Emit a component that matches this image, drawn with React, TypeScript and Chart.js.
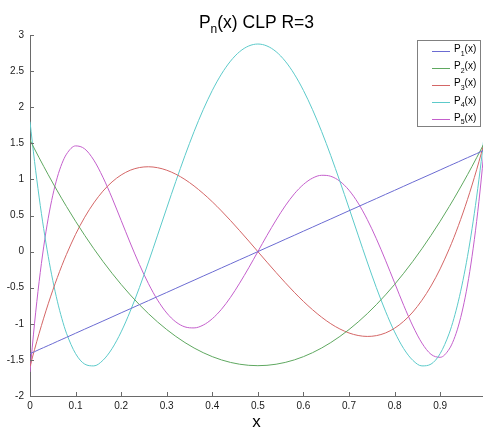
import React, { useEffect, useRef } from "react";
import { Chart, registerables } from "chart.js";

Chart.register(...registerables);

// ---- data ----
const xs = [
  0, 0.01, 0.02, 0.03, 0.04, 0.05, 0.06, 0.07, 0.08, 0.1, 0.12, 0.14, 0.16, 0.18, 0.2,
  0.22, 0.24, 0.26, 0.28, 0.3, 0.32, 0.34, 0.36, 0.38, 0.4, 0.42, 0.44, 0.46, 0.48, 0.5,
  0.52, 0.54, 0.56, 0.58, 0.6, 0.62, 0.64, 0.66, 0.68, 0.7, 0.72, 0.74, 0.76, 0.78, 0.8,
  0.82, 0.84, 0.86, 0.88, 0.9, 0.92, 0.93, 0.94, 0.95, 0.96, 0.97, 0.98, 0.99, 1.0,
];

const p1 = [
  -1.414, -1.386, -1.357, -1.329, -1.301, -1.273, -1.244, -1.216, -1.188, -1.131, -1.074, -1.018, -0.962, -0.905, -0.848,
  -0.792, -0.735, -0.679, -0.622, -0.566, -0.509, -0.452, -0.396, -0.339, -0.283, -0.226, -0.17, -0.113, -0.057, 0,
  0.057, 0.113, 0.17, 0.226, 0.283, 0.339, 0.396, 0.452, 0.509, 0.566, 0.622, 0.679, 0.735, 0.792, 0.848,
  0.905, 0.962, 1.018, 1.074, 1.131, 1.188, 1.216, 1.244, 1.273, 1.301, 1.329, 1.357, 1.386, 1.414,
];

const p2 = [
  1.545, 1.421, 1.3, 1.181, 1.065, 0.951, 0.84, 0.731, 0.625, 0.42, 0.225, 0.04, -0.135, -0.3, -0.455,
  -0.6, -0.735, -0.86, -0.975, -1.08, -1.175, -1.26, -1.335, -1.4, -1.455, -1.5, -1.535, -1.56, -1.575, -1.58,
  -1.575, -1.56, -1.535, -1.5, -1.455, -1.4, -1.335, -1.26, -1.175, -1.08, -0.975, -0.86, -0.735, -0.6, -0.455,
  -0.3, -0.135, 0.04, 0.225, 0.42, 0.625, 0.731, 0.84, 0.951, 1.065, 1.181, 1.3, 1.421, 1.545,
];

const p3 = [
  -1.592, -1.356, -1.133, -0.922, -0.723, -0.535, -0.359, -0.193, -0.039, 0.239, 0.476, 0.674, 0.837, 0.965, 1.061,
  1.127, 1.164, 1.175, 1.162, 1.127, 1.072, 0.999, 0.909, 0.805, 0.69, 0.564, 0.43, 0.29, 0.146, 0,
  -0.146, -0.29, -0.43, -0.564, -0.69, -0.805, -0.909, -0.999, -1.072, -1.127, -1.162, -1.175, -1.164, -1.127, -1.061,
  -0.965, -0.837, -0.674, -0.476, -0.239, 0.039, 0.193, 0.359, 0.535, 0.723, 0.922, 1.133, 1.356, 1.592,
];

const p4 = [
  1.8, 1.248, 0.755, 0.318, -0.066, -0.4, -0.687, -0.929, -1.13, -1.413, -1.558, -1.583, -1.506, -1.344, -1.112,
  -0.825, -0.499, -0.144, 0.228, 0.603, 0.973, 1.329, 1.662, 1.965, 2.232, 2.458, 2.638, 2.769, 2.848, 2.875,
  2.848, 2.769, 2.638, 2.458, 2.232, 1.965, 1.662, 1.329, 0.973, 0.603, 0.228, -0.144, -0.499, -0.825, -1.112,
  -1.344, -1.506, -1.583, -1.558, -1.413, -1.13, -0.929, -0.687, -0.4, -0.066, 0.318, 0.755, 1.248, 1.8,
];

const p5 = [
  -1.668, -0.992, -0.417, 0.065, 0.462, 0.781, 1.031, 1.218, 1.349, 1.464, 1.423, 1.267, 1.03, 0.744, 0.432,
  0.119, -0.178, -0.445, -0.672, -0.85, -0.974, -1.043, -1.057, -1.018, -0.93, -0.8, -0.633, -0.437, -0.224, 0,
  0.224, 0.437, 0.633, 0.8, 0.93, 1.018, 1.057, 1.043, 0.974, 0.85, 0.672, 0.445, 0.178, -0.119, -0.432,
  -0.744, -1.03, -1.267, -1.423, -1.464, -1.349, -1.218, -1.031, -0.781, -0.462, -0.065, 0.417, 0.992, 1.668,
];

const seriesValues = [p1, p2, p3, p4, p5];
const legendBase = "P";
const legendSubs = ["1", "2", "3", "4", "5"];
const legendSuffix = "(x)";
const seriesColors = ["#6b6bd2", "#5fa860", "#d46666", "#5ccaca", "#c45fcc"];

const titleBase = "P";
const titleSub = "n";
const titleRest = "(x) CLP R=3";
const xAxisLabel = "x";

const xTickStep = 0.1;
const yTickStep = 0.5;
const xMin = 0;
const xMax = 0.994;
const yMin = -2;
const yMax = 3;

const FAMILY = '"Liberation Sans", Arial, Helvetica, sans-serif';
const font = (size: number) => `${size}px ${FAMILY}`;
const AXIS_COLOR = "#6a6a6a";

const fmt = (v: number) => String(Math.round(v * 10) / 10);

const decorPlugin = {
  id: "matlabDecor",
  afterDraw(chart: any) {
    const ctx = chart.ctx as CanvasRenderingContext2D;
    const area = chart.chartArea;
    const xs_ = chart.scales.x;
    const ys_ = chart.scales.y;
    ctx.save();

    // inward ticks
    ctx.strokeStyle = AXIS_COLOR;
    ctx.lineWidth = 1;
    ctx.beginPath();
    for (const t of xs_.ticks) {
      const px = Math.round(xs_.getPixelForValue(t.value)) + 0.5;
      ctx.moveTo(px, area.bottom);
      ctx.lineTo(px, area.bottom - 4);
    }
    for (const t of ys_.ticks) {
      const py = Math.round(ys_.getPixelForValue(t.value)) + 0.5;
      ctx.moveTo(area.left, py);
      ctx.lineTo(area.left + 4, py);
    }
    ctx.stroke();

    // title with subscript
    const cx = (area.left + area.right) / 2;
    ctx.fillStyle = "#000";
    ctx.textBaseline = "alphabetic";
    ctx.textAlign = "left";
    ctx.font = font(17.5);
    const wBase = ctx.measureText(titleBase).width;
    const wRest = ctx.measureText(titleRest).width;
    ctx.font = font(12);
    const wSub = ctx.measureText(titleSub).width;
    let tx = cx - (wBase + wSub + wRest) / 2;
    const tBase = 27.5;
    ctx.font = font(17.5);
    ctx.fillText(titleBase, tx, tBase);
    tx += wBase;
    ctx.font = font(12);
    ctx.fillText(titleSub, tx, tBase + 5.5);
    tx += wSub;
    ctx.font = font(17.5);
    ctx.fillText(titleRest, tx, tBase);

    // x axis label
    ctx.font = font(17);
    ctx.textAlign = "center";
    ctx.fillText(xAxisLabel, cx, 426.5);

    // legend
    const bx = 417.5, by = 40.5, bw = 63, bh = 86;
    ctx.fillStyle = "#fff";
    ctx.fillRect(bx, by, bw, bh);
    ctx.strokeStyle = "#808080";
    ctx.strokeRect(bx, by, bw, bh);
    ctx.textAlign = "left";
    chart.data.datasets.forEach((ds: any, i: number) => {
      const ly = 50.5 + i * 17.2;
      ctx.strokeStyle = ds.borderColor;
      ctx.lineWidth = 1;
      ctx.beginPath();
      ctx.moveTo(432, Math.round(ly) + 0.5);
      ctx.lineTo(450, Math.round(ly) + 0.5);
      ctx.stroke();
      ctx.fillStyle = "#000";
      let lx = 454;
      ctx.font = font(10);
      ctx.fillText(legendBase, lx, ly + 1.5);
      lx += ctx.measureText(legendBase).width;
      ctx.font = font(7);
      ctx.fillText(legendSubs[i], lx, ly + 5);
      lx += ctx.measureText(legendSubs[i]).width;
      ctx.font = font(10);
      ctx.fillText(legendSuffix, lx, ly + 1.5);
    });

    ctx.restore();
  },
};

export default function App() {
  const ref = useRef<HTMLCanvasElement | null>(null);

  useEffect(() => {
    document.body.style.margin = "0";
    const canvas = ref.current;
    if (!canvas) return;
    const chart = new Chart(canvas, {
      type: "line",
      data: {
        datasets: seriesValues.map((vals, i) => ({
          label: legendBase + legendSubs[i] + legendSuffix,
          data: xs.map((x, j) => ({ x, y: vals[j] })),
          borderColor: seriesColors[i],
          backgroundColor: seriesColors[i],
          borderWidth: 1,
          pointRadius: 0,
          cubicInterpolationMode: "monotone" as const,
          fill: false,
        })),
      },
      options: {
        responsive: false,
        animation: false,
        devicePixelRatio: 1,
        layout: { padding: { top: 35, right: 0, left: 0, bottom: 0 } },
        plugins: {
          legend: { display: false },
          title: { display: false },
          tooltip: { enabled: false },
        },
        scales: {
          x: {
            type: "linear",
            min: xMin,
            max: xMax,
            afterFit: (s: any) => {
              s.height = 33;
            },
            ticks: {
              stepSize: xTickStep,
              includeBounds: false,
              autoSkip: false,
              maxRotation: 0,
              padding: 4,
              color: "#1a1a1a",
              font: { family: FAMILY, size: 10 },
              callback: (v: any) => fmt(Number(v)),
            },
            grid: { drawOnChartArea: false, drawTicks: false },
            border: { color: AXIS_COLOR, width: 1 },
          },
          y: {
            type: "linear",
            min: yMin,
            max: yMax,
            afterFit: (s: any) => {
              s.width = 30;
            },
            ticks: {
              stepSize: yTickStep,
              includeBounds: false,
              autoSkip: false,
              padding: 6,
              color: "#1a1a1a",
              font: { family: FAMILY, size: 10 },
              callback: (v: any) => fmt(Number(v)),
            },
            grid: { drawOnChartArea: false, drawTicks: false },
            border: { color: AXIS_COLOR, width: 1 },
          },
        },
      },
      plugins: [decorPlugin],
    } as any);
    return () => chart.destroy();
  }, []);

  return (
    <div style={{ position: "fixed", left: 0, top: 0, width: 483, height: 429, background: "#fff" }}>
      <canvas ref={ref} width={483} height={429} style={{ display: "block" }} />
    </div>
  );
}
